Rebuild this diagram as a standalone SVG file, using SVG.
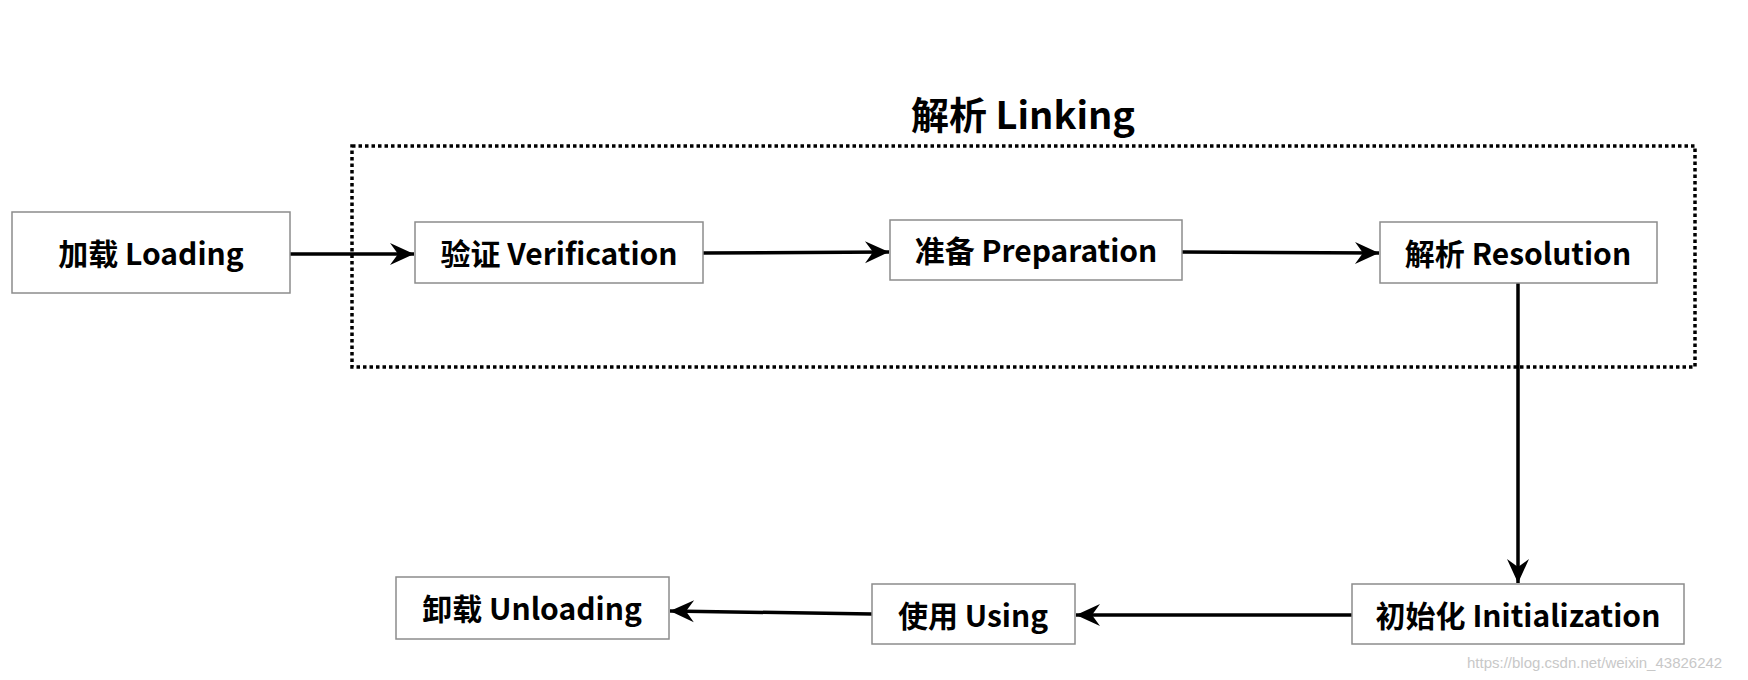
<svg xmlns="http://www.w3.org/2000/svg" width="1748" height="680" viewBox="0 0 1748 680">
<style>
.box{fill:#fff;stroke:#8c8c8c;stroke-width:1.5}
.lbl{font-family:"Noto Sans CJK SC","Noto Sans",sans-serif;font-weight:bold;font-size:30px;fill:#000;text-anchor:middle;dominant-baseline:central}
.ttl{font-family:"Noto Sans CJK SC","Noto Sans",sans-serif;font-weight:bold;font-size:38px;fill:#000;text-anchor:middle}
.edge{fill:none;stroke:#000;stroke-width:3.5;marker-end:url(#ah)}
.wm{font-family:"Liberation Sans",sans-serif;font-size:15px;fill:#c8c8c8}
</style>
<defs>
<marker id="ah" viewBox="-25 -12 26 24" refX="0" refY="0" markerWidth="26" markerHeight="24" markerUnits="userSpaceOnUse" orient="auto" overflow="visible">
<path d="M0,0 L-24,-11 L-16,0 L-24,11 Z" fill="#000"/>
</marker>
</defs>
<rect width="1748" height="680" fill="#fff"/>
<g id="linking">
<rect x="352" y="146" width="1343" height="221" fill="none" stroke="#000" stroke-width="3.5" stroke-dasharray="3.5 3"/>
<text class="ttl" x="1023" y="129">解析 Linking</text>
</g>
<g id="connectors">
<path class="edge" d="M290,254 L414,254"/>
<path class="edge" d="M703,253 L889,252"/>
<path class="edge" d="M1182,252 L1379,253"/>
<path class="edge" d="M1518,283 L1518,583"/>
<path class="edge" d="M1352,615 L1076,615"/>
<path class="edge" d="M872,614 L670,611"/>
</g>
<g id="loading"><rect class="box" x="12" y="212" width="278" height="81"/><text class="lbl" x="151" y="252">加载 Loading</text></g>
<g id="verification"><rect class="box" x="415" y="222" width="288" height="61"/><text class="lbl" x="559" y="252">验证 Verification</text></g>
<g id="preparation"><rect class="box" x="890" y="220" width="292" height="60"/><text class="lbl" x="1036" y="249">准备 Preparation</text></g>
<g id="resolution"><rect class="box" x="1380" y="222" width="277" height="61"/><text class="lbl" x="1518" y="252">解析 Resolution</text></g>
<g id="initialization"><rect class="box" x="1352" y="584" width="332" height="60"/><text class="lbl" x="1518" y="614">初始化 Initialization</text></g>
<g id="using"><rect class="box" x="872" y="584" width="203" height="60"/><text class="lbl" x="973" y="614">使用 Using</text></g>
<g id="unloading"><rect class="box" x="396" y="577" width="273" height="62"/><text class="lbl" x="532" y="607">卸载 Unloading</text></g>
<text class="wm" x="1467" y="668">https://blog.csdn.net/weixin_43826242</text>
</svg>
